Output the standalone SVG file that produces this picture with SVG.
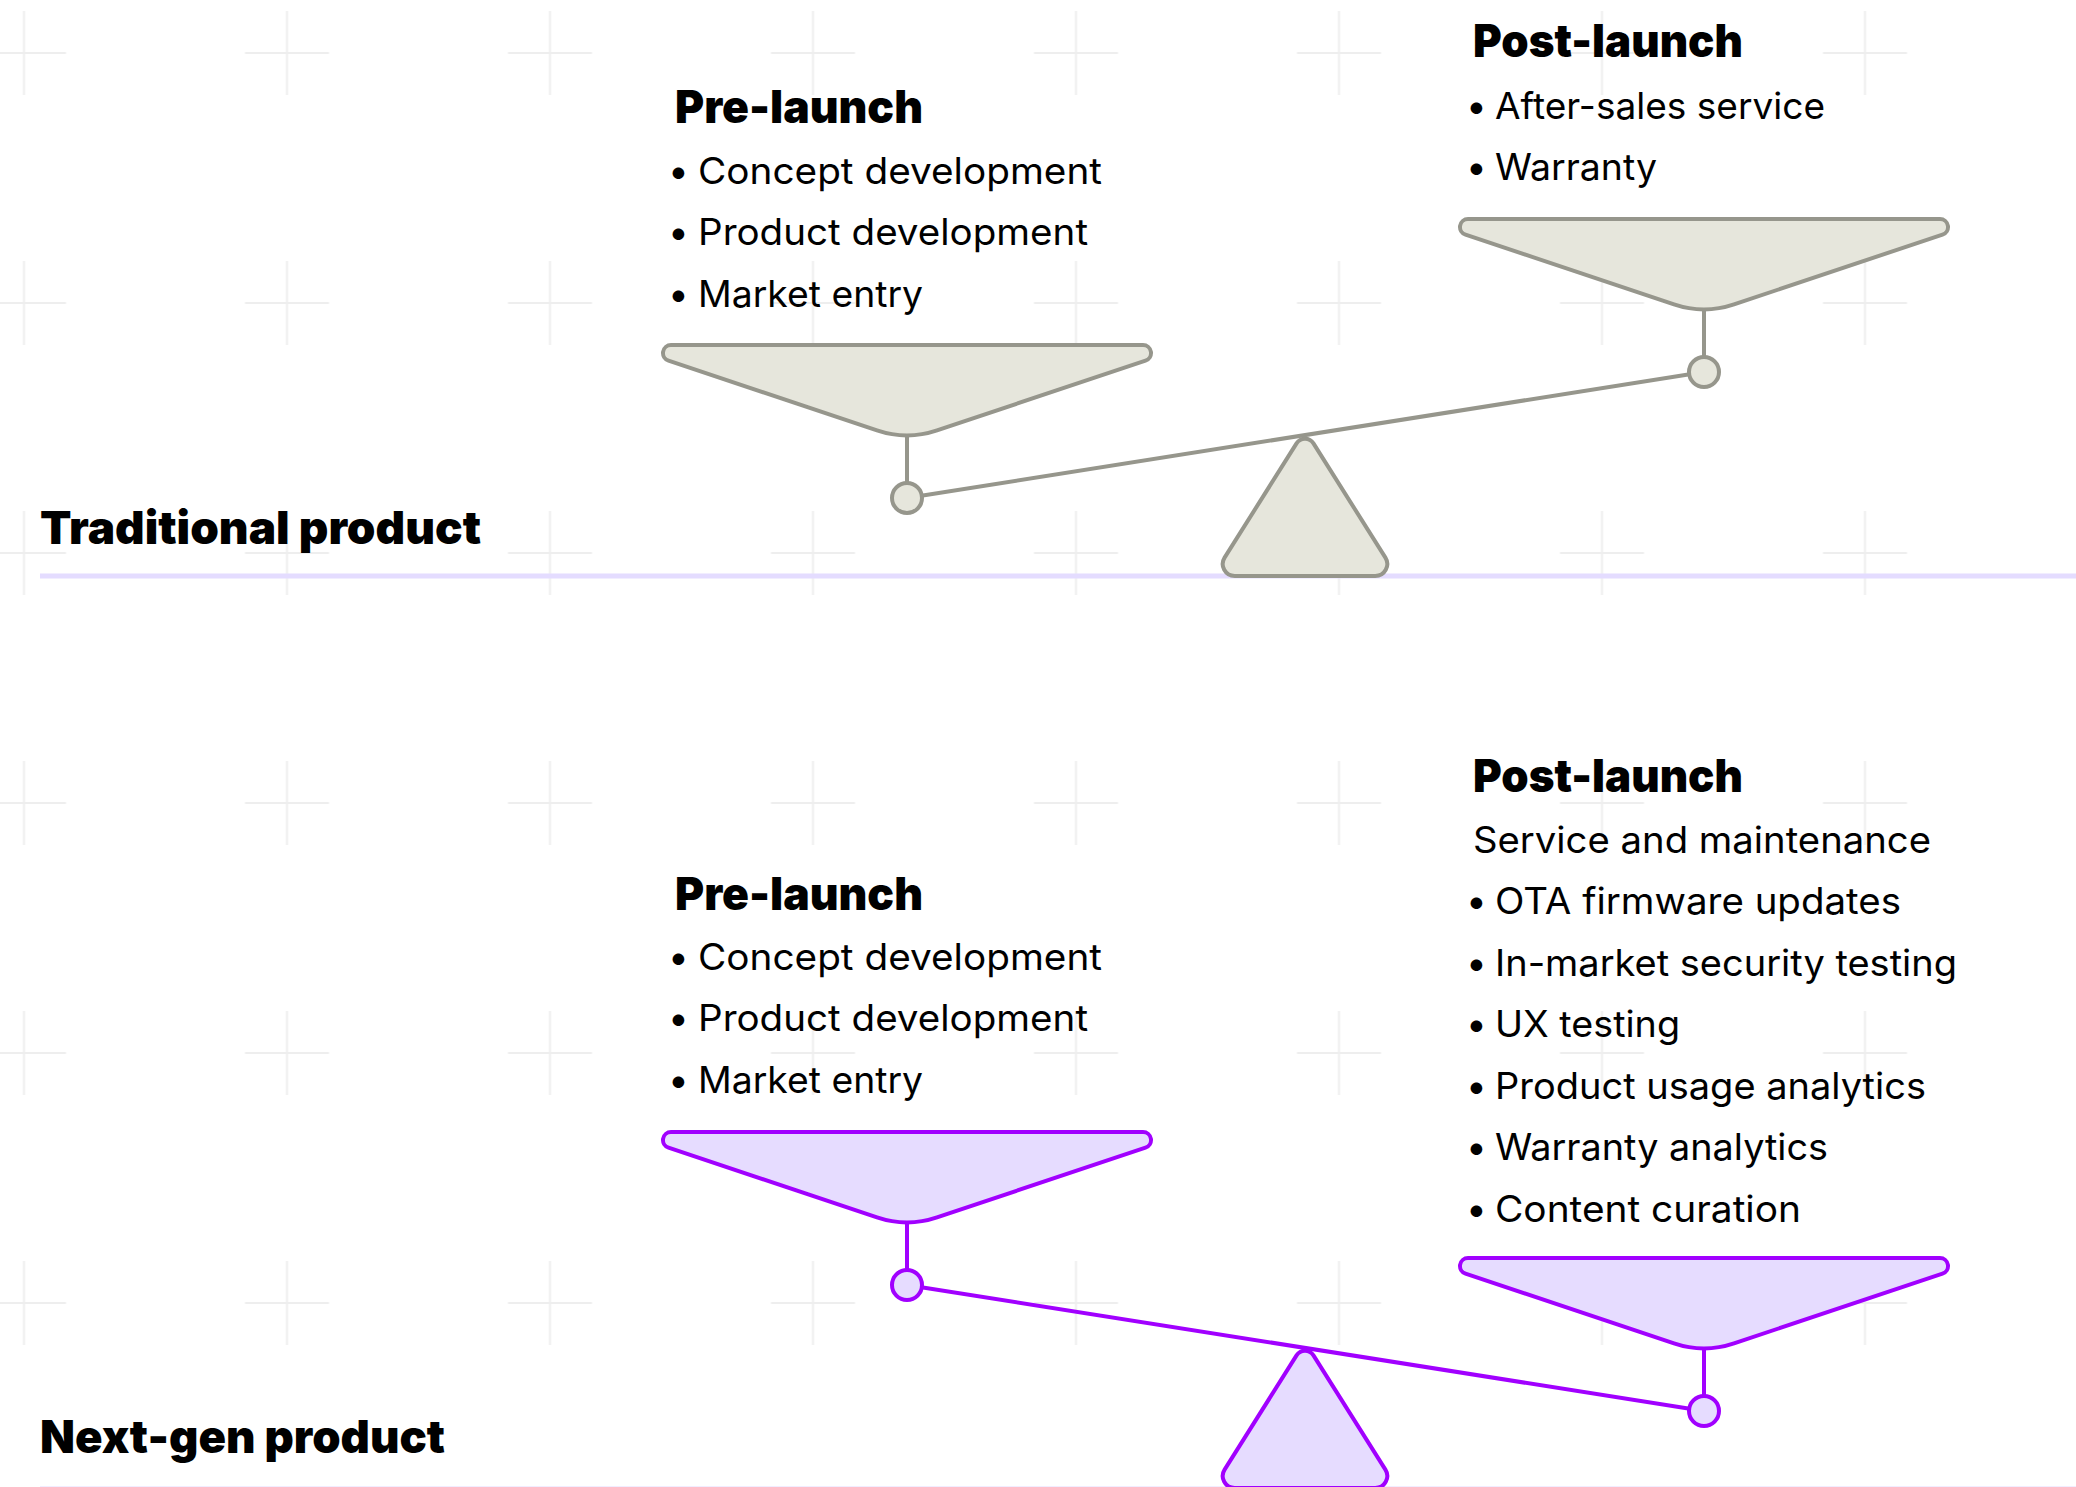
<svg xmlns="http://www.w3.org/2000/svg" xmlns:xlink="http://www.w3.org/1999/xlink" width="2076" height="1487" viewBox="0 0 2076 1487">
<style>
.ttl{font-family:Inter,"Liberation Sans",sans-serif;font-weight:900;font-size:46px;fill:#000}
.itm{font-family:Inter,"Liberation Sans",sans-serif;font-weight:400;font-size:37px;fill:#000}
.g-stroke{stroke:#96968c;stroke-width:4;fill:#e6e6dc}
.p-stroke{stroke:#a100ff;stroke-width:4;fill:#e6dcff}
.g-line{stroke:#96968c;stroke-width:4;fill:none}
.p-line{stroke:#a100ff;stroke-width:4;fill:none}
.base{stroke:#e4dcff;stroke-width:5}
</style>
<defs>
<pattern id="grid" patternUnits="userSpaceOnUse" x="-107.5" y="-72" width="263" height="250">
<path d="M89.5,125H173.5M131.5,83V167" stroke="#eeeeee" stroke-width="2" fill="none"/>
</pattern>
<path id="pan" d="M-236,0H236A8 8 0 0 1 238.5,15.6L30,85.4Q0,95.5 -30,85.4L-238.5,15.6A8 8 0 0 1 -236,0Z"/>
<path id="fulcrum" d="M1313.46,443.43L1385.4,557.6A12 12 0 0 1 1375.25,576L1234.75,576A12 12 0 0 1 1224.6,557.6L1296.54,443.43A10 10 0 0 1 1313.46,443.43Z"/>
</defs>
<rect width="2076" height="1487" fill="#fff"/>
<rect width="2076" height="1487" fill="url(#grid)"/>

<g id="baselines">
<line class="base" x1="40" y1="576" x2="2076" y2="576"/>
<line class="base" x1="40" y1="1489" x2="2076" y2="1489"/>
</g>

<g id="traditional-label"><text class="ttl" x="40" y="544" textLength="441" lengthAdjust="spacingAndGlyphs">Traditional product</text></g>
<g id="nextgen-label"><text class="ttl" x="40" y="1453" textLength="405" lengthAdjust="spacingAndGlyphs">Next-gen product</text></g>

<g id="trad-pre-text">
<text class="ttl" x="675" y="123" textLength="248" lengthAdjust="spacingAndGlyphs">Pre-launch</text>
<text class="itm" y="184"><tspan x="668">•</tspan><tspan x="698" textLength="404" lengthAdjust="spacingAndGlyphs">Concept development</tspan></text>
<text class="itm" y="245"><tspan x="668">•</tspan><tspan x="698" textLength="390" lengthAdjust="spacingAndGlyphs">Product development</tspan></text>
<text class="itm" y="307"><tspan x="668">•</tspan><tspan x="698" textLength="225" lengthAdjust="spacingAndGlyphs">Market entry</tspan></text>
</g>
<g id="trad-post-text">
<text class="ttl" x="1473" y="57" textLength="270" lengthAdjust="spacingAndGlyphs">Post-launch</text>
<text class="itm" y="118.5"><tspan x="1466">•</tspan><tspan x="1495" textLength="330" lengthAdjust="spacingAndGlyphs">After-sales service</tspan></text>
<text class="itm" y="180"><tspan x="1466">•</tspan><tspan x="1495" textLength="162" lengthAdjust="spacingAndGlyphs">Warranty</tspan></text>
</g>

<g id="next-pre-text">
<text class="ttl" x="675" y="910" textLength="248" lengthAdjust="spacingAndGlyphs">Pre-launch</text>
<text class="itm" y="970"><tspan x="668">•</tspan><tspan x="698" textLength="404" lengthAdjust="spacingAndGlyphs">Concept development</tspan></text>
<text class="itm" y="1031"><tspan x="668">•</tspan><tspan x="698" textLength="390" lengthAdjust="spacingAndGlyphs">Product development</tspan></text>
<text class="itm" y="1093"><tspan x="668">•</tspan><tspan x="698" textLength="225" lengthAdjust="spacingAndGlyphs">Market entry</tspan></text>
</g>
<g id="next-post-text">
<text class="ttl" x="1473" y="792" textLength="270" lengthAdjust="spacingAndGlyphs">Post-launch</text>
<text class="itm" x="1473" y="852.5" textLength="458" lengthAdjust="spacingAndGlyphs">Service and maintenance</text>
<text class="itm" y="914"><tspan x="1466">•</tspan><tspan x="1495" textLength="406" lengthAdjust="spacingAndGlyphs">OTA firmware updates</tspan></text>
<text class="itm" y="975.5"><tspan x="1466">•</tspan><tspan x="1495" textLength="462" lengthAdjust="spacingAndGlyphs">In-market security testing</tspan></text>
<text class="itm" y="1037"><tspan x="1466">•</tspan><tspan x="1495" textLength="185" lengthAdjust="spacingAndGlyphs">UX testing</tspan></text>
<text class="itm" y="1098.5"><tspan x="1466">•</tspan><tspan x="1495" textLength="431" lengthAdjust="spacingAndGlyphs">Product usage analytics</tspan></text>
<text class="itm" y="1160"><tspan x="1466">•</tspan><tspan x="1495" textLength="333" lengthAdjust="spacingAndGlyphs">Warranty analytics</tspan></text>
<text class="itm" y="1221.5"><tspan x="1466">•</tspan><tspan x="1495" textLength="306" lengthAdjust="spacingAndGlyphs">Content curation</tspan></text>
</g>

<g id="trad-fulcrum"><use xlink:href="#fulcrum" href="#fulcrum" class="g-stroke"/></g>
<g id="next-fulcrum"><use xlink:href="#fulcrum" href="#fulcrum" class="p-stroke" transform="translate(0,912)"/></g>

<g id="connectors">
<line class="g-line" x1="907" y1="498" x2="1704" y2="372"/>
<line class="p-line" x1="907" y1="1285" x2="1704" y2="1411"/>
</g>

<g id="trad-pre-pan">
<line class="g-line" x1="907" y1="435" x2="907" y2="483"/>
<use xlink:href="#pan" href="#pan" class="g-stroke" transform="translate(907,345)"/>
<circle class="g-stroke" cx="907" cy="498" r="15"/>
</g>
<g id="trad-post-pan">
<line class="g-line" x1="1704" y1="309" x2="1704" y2="357"/>
<use xlink:href="#pan" href="#pan" class="g-stroke" transform="translate(1704,219)"/>
<circle class="g-stroke" cx="1704" cy="372" r="15"/>
</g>
<g id="next-pre-pan">
<line class="p-line" x1="907" y1="1222" x2="907" y2="1270"/>
<use xlink:href="#pan" href="#pan" class="p-stroke" transform="translate(907,1132)"/>
<circle class="p-stroke" cx="907" cy="1285" r="15"/>
</g>
<g id="next-post-pan">
<line class="p-line" x1="1704" y1="1348" x2="1704" y2="1396"/>
<use xlink:href="#pan" href="#pan" class="p-stroke" transform="translate(1704,1258)"/>
<circle class="p-stroke" cx="1704" cy="1411" r="15"/>
</g>
</svg>
